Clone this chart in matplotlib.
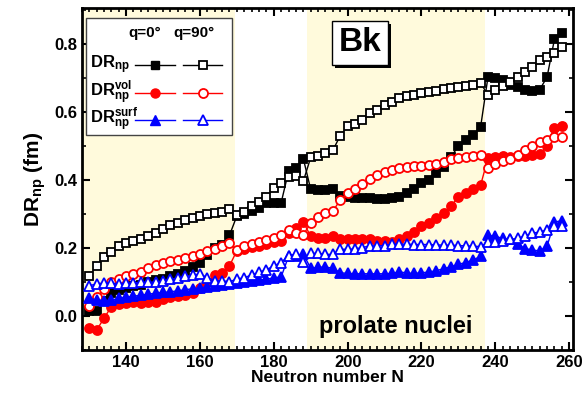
import matplotlib
matplotlib.use("Agg")
import matplotlib.pyplot as plt
from matplotlib.patches import Rectangle
from matplotlib.ticker import MultipleLocator, FormatStrFormatter

plt.rcParams['font.family'] = ['Liberation Sans', 'DejaVu Sans']
plt.rcParams['font.weight'] = 'bold'
plt.rcParams['mathtext.fontset'] = 'custom'
plt.rcParams['mathtext.rm'] = 'Liberation Sans:bold'
plt.rcParams['mathtext.it'] = 'Liberation Sans:bold'
plt.rcParams['mathtext.bf'] = 'Liberation Sans:bold'
plt.rcParams['mathtext.default'] = 'rm'

# neutron numbers, every second isotope
N = list(range(130, 260, 2))

dr_q0 = [0.014, 0.016, 0.043, 0.067, 0.075, 0.082, 0.089, 0.092, 0.099, 0.106,
         0.110, 0.118, 0.124, 0.132, 0.143, 0.157, 0.180, 0.201, 0.208, 0.237,
         0.294, 0.300, 0.309, 0.318, 0.331, 0.333, 0.333, 0.425, 0.435, 0.462,
         0.372, 0.370, 0.370, 0.373, 0.352, 0.350, 0.348, 0.347, 0.346, 0.345,
         0.345, 0.346, 0.351, 0.360, 0.374, 0.391, 0.401, 0.421, 0.438, 0.468,
         0.499, 0.516, 0.533, 0.555, 0.702, 0.699, 0.692, 0.679, 0.673, 0.665,
         0.660, 0.665, 0.702, 0.813, 0.833]
dr_q90 = [0.116, 0.147, 0.172, 0.188, 0.206, 0.214, 0.221, 0.227, 0.235, 0.245,
          0.257, 0.266, 0.274, 0.282, 0.289, 0.294, 0.299, 0.304, 0.306, 0.313,
          0.296, 0.306, 0.323, 0.335, 0.350, 0.376, 0.390, 0.409, 0.410, 0.396,
          0.466, 0.471, 0.479, 0.487, 0.530, 0.557, 0.565, 0.577, 0.596, 0.606,
          0.621, 0.628, 0.640, 0.645, 0.650, 0.655, 0.659, 0.662, 0.666, 0.670,
          0.674, 0.677, 0.680, 0.684, 0.650, 0.663, 0.676, 0.689, 0.702, 0.718,
          0.733, 0.751, 0.762, 0.774, 0.790]
vol_q0 = [-0.036, -0.042, -0.007, 0.027, 0.034, 0.038, 0.040, 0.038, 0.040, 0.042,
          0.049, 0.055, 0.059, 0.062, 0.067, 0.081, 0.100, 0.121, 0.126, 0.147,
          0.192, 0.197, 0.202, 0.206, 0.211, 0.216, 0.220, 0.245, 0.259, 0.276,
          0.234, 0.229, 0.230, 0.236, 0.225, 0.225, 0.225, 0.227, 0.225, 0.221,
          0.219, 0.218, 0.225, 0.235, 0.247, 0.264, 0.272, 0.289, 0.304, 0.323,
          0.350, 0.360, 0.372, 0.384, 0.464, 0.468, 0.469, 0.468, 0.469, 0.469,
          0.472, 0.477, 0.499, 0.552, 0.559]
vol_q90 = [0.030, 0.055, 0.079, 0.100, 0.110, 0.118, 0.123, 0.130, 0.140, 0.150,
           0.156, 0.162, 0.165, 0.170, 0.175, 0.182, 0.191, 0.198, 0.206, 0.213,
           0.193, 0.205, 0.212, 0.218, 0.222, 0.228, 0.237, 0.252, 0.245, 0.239,
           0.273, 0.292, 0.302, 0.308, 0.341, 0.360, 0.374, 0.387, 0.403, 0.413,
           0.423, 0.429, 0.435, 0.438, 0.440, 0.442, 0.445, 0.448, 0.452, 0.460,
           0.465, 0.468, 0.471, 0.474, 0.436, 0.448, 0.455, 0.462, 0.474, 0.487,
           0.499, 0.510, 0.518, 0.526, 0.526]
surf_q0 = [0.052, 0.047, 0.045, 0.046, 0.052, 0.055, 0.058, 0.061, 0.064, 0.067,
           0.069, 0.071, 0.074, 0.077, 0.080, 0.082, 0.085, 0.088, 0.091, 0.094,
           0.097, 0.099, 0.102, 0.105, 0.108, 0.112, 0.115, 0.175, 0.177, 0.182,
           0.140, 0.143, 0.144, 0.140, 0.127, 0.125, 0.124, 0.124, 0.124, 0.124,
           0.124, 0.125, 0.130, 0.126, 0.125, 0.127, 0.129, 0.133, 0.139, 0.145,
           0.152, 0.157, 0.165, 0.175, 0.237, 0.234, 0.228, 0.225, 0.211, 0.198,
           0.194, 0.191, 0.205, 0.276, 0.280]
surf_q90 = [0.089, 0.094, 0.097, 0.097, 0.094, 0.097, 0.097, 0.099, 0.099, 0.100,
            0.103, 0.108, 0.111, 0.116, 0.120, 0.123, 0.113, 0.104, 0.103, 0.101,
            0.108, 0.113, 0.120, 0.128, 0.136, 0.147, 0.157, 0.177, 0.182, 0.160,
            0.184, 0.184, 0.181, 0.181, 0.196, 0.196, 0.197, 0.201, 0.206, 0.206,
            0.207, 0.211, 0.211, 0.211, 0.210, 0.210, 0.210, 0.209, 0.208, 0.208,
            0.207, 0.206, 0.205, 0.204, 0.216, 0.218, 0.219, 0.225, 0.228, 0.235,
            0.243, 0.247, 0.253, 0.263, 0.265]

# shaded N ranges
bands = [(128, 169.5), (189, 237.3)]

fig = plt.figure(figsize=(5.84, 4.0), dpi=100)
ax = fig.add_axes([0.140, 0.125, 0.841, 0.855])

for a, b in bands:
    ax.axvspan(a, b, color='#fffadc', lw=0, zorder=0)

series = [
    (dr_q0, 'k', 's', True), (dr_q90, 'k', 's', False),
    (vol_q0, 'red', 'o', True), (vol_q90, 'red', 'o', False),
    (surf_q0, 'blue', '^', True), (surf_q90, 'blue', '^', False),
]
for vals, col, mk, filled in series:
    ms = 5.5 if mk == 's' else 6.5
    ax.plot(N, vals, color=col, lw=1, marker=mk, ms=ms, mew=1.3,
            mfc=col if filled else 'white', mec=col, zorder=3)

ax.set_xlim(128, 261)
ax.set_ylim(-0.1, 0.905)
ax.xaxis.set_major_locator(MultipleLocator(20))
ax.xaxis.set_minor_locator(MultipleLocator(2))
ax.yaxis.set_major_locator(MultipleLocator(0.2))
ax.yaxis.set_minor_locator(MultipleLocator(0.1))
ax.yaxis.set_major_formatter(FormatStrFormatter('%.1f'))
ax.tick_params(which='both', direction='in', top=True, right=True,
               labelsize=12, width=1.5)
ax.tick_params(which='major', length=6)
ax.tick_params(which='minor', length=3, width=1.2)
for s in ax.spines.values():
    s.set_linewidth(2)

ax.set_xlabel('Neutron number N', fontsize=12.5, fontweight='bold', labelpad=0)
ax.set_ylabel('DR$_{np}$ (fm)', fontsize=15, fontweight='bold', labelpad=4)

# element label in a white box; the drop shadow is added after a draw
bk = ax.text(0.566, 0.898, 'Bk', transform=ax.transAxes, fontsize=24,
             fontweight='bold', ha='center', va='center', zorder=6,
             bbox=dict(boxstyle='square,pad=0.2', fc='white', ec='k', lw=1))

ax.text(0.64, 0.07, 'prolate nuclei', transform=ax.transAxes, fontsize=17,
        fontweight='bold', ha='center', va='center', zorder=4)

# legend drawn by hand: row labels + two column samples
ax.add_patch(Rectangle((0.008, 0.629), 0.297, 0.342, transform=ax.transAxes,
                       fc='white', ec='#444444', lw=1, zorder=6))
ax.text(0.128, 0.927, 'q=0°', transform=ax.transAxes, fontsize=11,
        fontweight='bold', ha='center', va='center', zorder=7)
ax.text(0.228, 0.927, 'q=90°', transform=ax.transAxes, fontsize=11,
        fontweight='bold', ha='center', va='center', zorder=7)
rows = [('DR$_{np}$', 'k', 's', 0.833),
        ('DR$^{vol}_{np}$', 'red', 'o', 0.751),
        ('DR$^{surf}_{np}$', 'blue', '^', 0.672)]
for lab, col, mk, yy in rows:
    ax.text(0.016, yy, lab, transform=ax.transAxes, fontsize=12,
            fontweight='bold', ha='left', va='center', zorder=7)
    ms = 5.5 if mk == 's' else 6.5
    ax.plot([0.108, 0.19], [yy, yy], color=col, lw=1, transform=ax.transAxes, zorder=7)
    ax.plot([0.149], [yy], color=col, marker=mk, ms=ms, mfc=col, mec=col,
            transform=ax.transAxes, zorder=8)
    ax.plot([0.206, 0.286], [yy, yy], color=col, lw=1, transform=ax.transAxes, zorder=7)
    ax.plot([0.246], [yy], color=col, marker=mk, ms=ms, mfc='white', mec=col,
            mew=1.3, transform=ax.transAxes, zorder=8)

fig.canvas.draw()
bb = bk.get_bbox_patch().get_window_extent()
inv = ax.transAxes.inverted()
(x0, y0), (x1, y1) = inv.transform([[bb.x0 + 3, bb.y0 - 3], [bb.x1 + 3, bb.y1 - 3]])
ax.add_patch(Rectangle((x0, y0), x1 - x0, y1 - y0, transform=ax.transAxes,
                       fc='k', ec='none', zorder=5))

fig.savefig('out.png', dpi=100)
